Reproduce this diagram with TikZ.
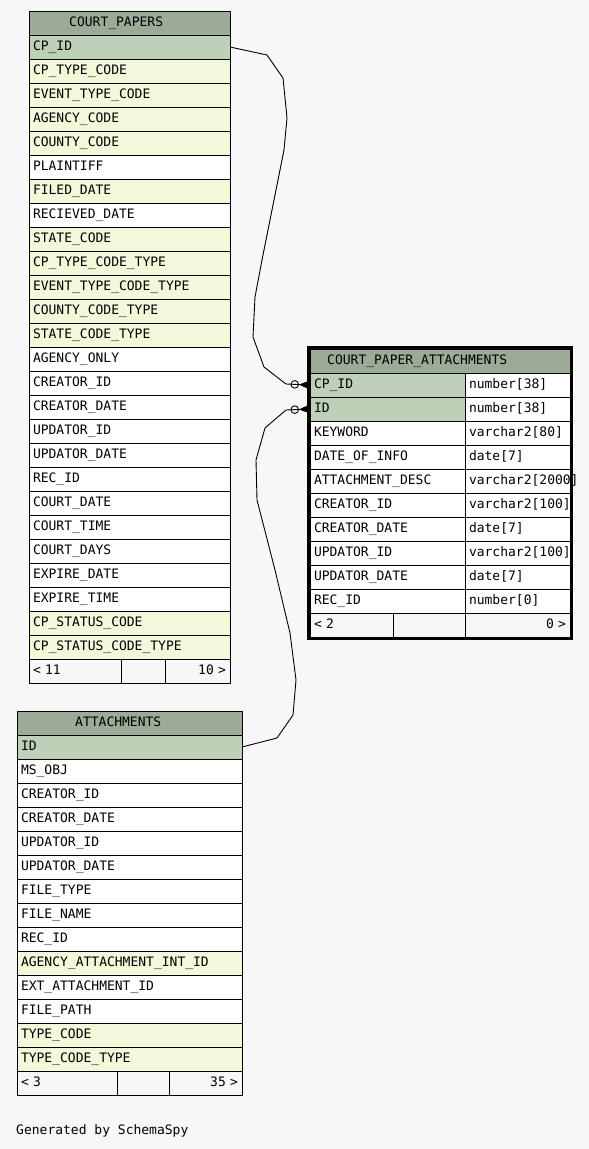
\documentclass[tikz,border=0pt]{standalone}
\usepackage{fontspec}
\setmonofont{DejaVu Sans Mono}
\usetikzlibrary{arrows.meta}

\definecolor{bgcol}{HTML}{F7F7F7}
\definecolor{hdrcol}{HTML}{9BAB96}
\definecolor{pkcol}{HTML}{BED1B8}
\definecolor{idxcol}{HTML}{F4F7DA}

\begin{document}
\begin{tikzpicture}[x=1pt,y=-1pt,line join=round,font=\ttfamily\fontsize{13}{15}\selectfont,
    rowcell/.style={draw=black,line width=1pt,anchor=north west,outer sep=0pt,inner xsep=4pt,
      minimum height=24pt,text height=10pt,text depth=3pt,align=left},
    hdrcell/.style={rowcell,fill=hdrcol},
    title/.style={anchor=west,inner sep=0pt,text height=10pt,text depth=3pt},
    link/.style={line width=0.9pt,-{Circle[open,length=8.5pt,sep=0pt]Triangle[reversed,length=11pt,width=9pt]}}]

	% Nền và khung
	\useasboundingbox (0,0) rectangle (589,1149);
	\fill[bgcol] (0,0) rectangle (589,1149);

	% Bảng COURT_PAPERS
	\node[hdrcell,text width=193pt] (cpHead) at (29,11) {};
	\node[title] (cpTitle) at (69,23.3) {COURT\_PAPERS};
	\foreach \col/\bg [count=\i from 0] in {CP\_ID/pkcol, CP\_TYPE\_CODE/idxcol, EVENT\_TYPE\_CODE/idxcol,
	    AGENCY\_CODE/idxcol, COUNTY\_CODE/idxcol, PLAINTIFF/white, FILED\_DATE/idxcol, RECIEVED\_DATE/white,
	    STATE\_CODE/idxcol, CP\_TYPE\_CODE\_TYPE/idxcol, EVENT\_TYPE\_CODE\_TYPE/idxcol, COUNTY\_CODE\_TYPE/idxcol,
	    STATE\_CODE\_TYPE/idxcol, AGENCY\_ONLY/white, CREATOR\_ID/white, CREATOR\_DATE/white, UPDATOR\_ID/white,
	    UPDATOR\_DATE/white, REC\_ID/white, COURT\_DATE/white, COURT\_TIME/white, COURT\_DAYS/white,
	    EXPIRE\_DATE/white, EXPIRE\_TIME/white, CP\_STATUS\_CODE/idxcol, CP\_STATUS\_CODE\_TYPE/idxcol}
	  \node[rowcell,fill=\bg,text width=193pt] (cp\i) at (29,35+24*\i) {\col};
	\node[rowcell,text width=84pt] (cpFootL) at (29,659) {< 11};
	\node[rowcell,text width=36pt] (cpFootM) at (121,659) {};
	\node[rowcell,text width=57pt,align=right] (cpFootR) at (165,659) {10 >};

	% Bảng ATTACHMENTS
	\node[hdrcell,text width=217pt] (attHead) at (17,711) {};
	\node[title] (attTitle) at (75,723.3) {ATTACHMENTS};
	\foreach \col/\bg [count=\i from 0] in {ID/pkcol, MS\_OBJ/white, CREATOR\_ID/white, CREATOR\_DATE/white,
	    UPDATOR\_ID/white, UPDATOR\_DATE/white, FILE\_TYPE/white, FILE\_NAME/white, REC\_ID/white,
	    AGENCY\_ATTACHMENT\_INT\_ID/idxcol, EXT\_ATTACHMENT\_ID/white, FILE\_PATH/white,
	    TYPE\_CODE/idxcol, TYPE\_CODE\_TYPE/idxcol}
	  \node[rowcell,fill=\bg,text width=217pt] (att\i) at (17,735+24*\i) {\col};
	\node[rowcell,text width=92pt] (attFootL) at (17,1071) {< 3};
	\node[rowcell,text width=44pt] (attFootM) at (117,1071) {};
	\node[rowcell,text width=65pt,align=right] (attFootR) at (169,1071) {35 >};

	% Các đường nối khóa ngoại
	\draw[link] (cp0.east) -- (267,55) -- (283,78) -- (287,118) -- (284,150) -- (272,210) -- (262,260)
	  -- (255,297) -- (253,337) -- (264,367) -- (286,384) -- (310,385);
	\draw[link] (att0.east) -- (277,738) -- (293,715) -- (296,680) -- (290,633) -- (275,570) -- (257,500)
	  -- (256,460) -- (265,428) -- (286,410) -- (310,409);

	% Bảng COURT_PAPER_ATTACHMENTS
	\node[hdrcell,text width=252pt] (cpaHead) at (310,349) {};
	\node[title] (cpaTitle) at (327,361.3) {COURT\_PAPER\_ATTACHMENTS};
	\foreach \col/\typ/\bg [count=\i from 0] in {CP\_ID/number[38]/pkcol, ID/number[38]/pkcol,
	    KEYWORD/varchar2[80]/white, DATE\_OF\_INFO/date[7]/white, ATTACHMENT\_DESC/varchar2[2000]/white,
	    CREATOR\_ID/varchar2[100]/white, CREATOR\_DATE/date[7]/white, UPDATOR\_ID/varchar2[100]/white,
	    UPDATOR\_DATE/date[7]/white, REC\_ID/number[0]/white}
	  {
	  \node[rowcell,fill=\bg,text width=147pt] (cpa\i) at (310,373+24*\i) {\col};
	  \node[rowcell,fill=white,text width=97pt] (cpaType\i) at (465,373+24*\i) {\typ};
	  }
	\node[rowcell,text width=75pt] (cpaFootL) at (310,613) {< 2};
	\node[rowcell,text width=64pt] (cpaFootM) at (393,613) {};
	\node[rowcell,text width=97pt,align=right] (cpaFootR) at (465,613) {0 >};
	\draw[line width=3.5pt,line join=miter] (308.5,348) rectangle (571.5,638.5);

	% Chú thích cuối
	\node[title] (credit) at (16,1131) {Generated by SchemaSpy};

\end{tikzpicture}
\end{document}
